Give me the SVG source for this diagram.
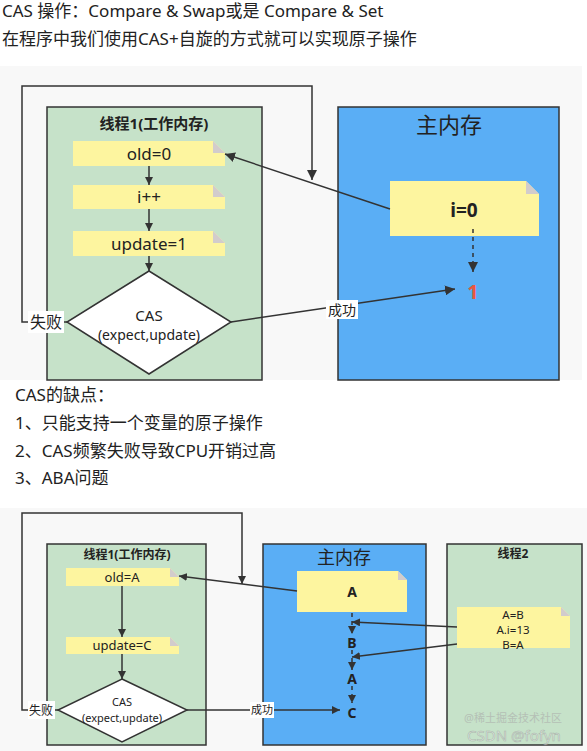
<svg xmlns="http://www.w3.org/2000/svg" width="587" height="751" viewBox="0 0 587 751">
<defs>
<marker id="ah" viewBox="0 0 10 10" refX="10" refY="5" markerWidth="10" markerHeight="10" markerUnits="userSpaceOnUse" orient="auto">
<path d="M0,0 L10,5 L0,10 Z" fill="#333"/>
</marker>
<marker id="ahs" viewBox="0 0 10 10" refX="10" refY="5" markerWidth="8" markerHeight="8" markerUnits="userSpaceOnUse" orient="auto">
<path d="M0,0 L10,5 L0,10 Z" fill="#333"/>
</marker>
</defs>
<style>
text{font-family:"Noto Sans","Noto Sans CJK SC",sans-serif;fill:#222}
.hd{font-size:17px}
.green{fill:#c6e2c9;stroke:#333;stroke-width:1.5}
.blue{fill:#5aaef5;stroke:#333;stroke-width:1.5}
.note{fill:#fdf59f}
.fold{fill:#d2cccc}
.dia{fill:#fff;stroke:#333;stroke-width:1.5}
.ln{fill:none;stroke:#333;stroke-width:1.5}
.dash{fill:none;stroke:#333;stroke-width:1.5;stroke-dasharray:4 4}
.lbl{fill:#fff}
.c{text-anchor:middle}
</style>
<rect x="0" y="0" width="587" height="751" fill="#fff"/>
<rect x="0" y="66" width="582" height="314" fill="#f8f8f8"/>
<rect x="0" y="508" width="587" height="243" fill="#f8f8f8"/>

<text class="hd" x="2" y="17">CAS 操作：Compare &amp; Swap或是 Compare &amp; Set</text>
<text class="hd" x="2" y="45">在程序中我们使用CAS+自旋的方式就可以实现原子操作</text>

<!-- Top diagram -->
<g id="thread1-top">
<rect class="green" x="47" y="107" width="215" height="273"/>
<text x="154" y="129" class="c" font-size="15" font-weight="bold" fill="#333">线程1(工作内存)</text>
</g>
<g id="old0">
<path class="note" d="M73,141 H213 L225,153 V166 H73 Z"/>
<path class="fold" d="M213,141 L225,153 H213 Z"/>
<text x="149" y="160" class="c" font-size="17">old=0</text>
</g>
<g id="ipp">
<path class="note" d="M73,185 H213 L225,197 V209 H73 Z"/>
<path class="fold" d="M213,185 L225,197 H213 Z"/>
<text x="149" y="203" class="c" font-size="17">i++</text>
</g>
<g id="update1">
<path class="note" d="M73,231 H213 L225,243 V256 H73 Z"/>
<path class="fold" d="M213,231 L225,243 H213 Z"/>
<text x="149" y="250" class="c" font-size="17">update=1</text>
</g>
<g id="cas-top">
<path class="dia" d="M149,271 L231,322 L149,374 L67,322 Z"/>
<text x="149" y="321" class="c" font-size="15" fill="#333">CAS</text>
<text x="149" y="340" class="c" font-size="14" fill="#333">(expect,update)</text>
</g>
<g id="mainmem-top">
<rect class="blue" x="338" y="107" width="221" height="273"/>
<text x="449" y="133" class="c" font-size="22" fill="#333">主内存</text>
</g>
<g id="i0">
<path class="note" d="M390,181 H526 L539,194 V236 H390 Z"/>
<path class="fold" d="M526,181 L539,194 H526 Z"/>
<text x="464" y="217" class="c" font-size="19" font-weight="bold">i=0</text>
</g>
<g id="one">
<text x="473" y="299" class="c" font-size="20" font-weight="bold" style="fill:#e9573f">1</text>
</g>

<g id="connectors-top">
<line class="ln" x1="149" y1="166" x2="149" y2="185" marker-end="url(#ahs)"/>
<line class="ln" x1="149" y1="209" x2="149" y2="231" marker-end="url(#ahs)"/>
<line class="ln" x1="149" y1="256" x2="149" y2="271" marker-end="url(#ahs)"/>
<line class="ln" x1="390" y1="209" x2="225" y2="154" marker-end="url(#ah)"/>
<line class="dash" x1="473" y1="229" x2="473" y2="272" marker-end="url(#ah)"/>
<polyline class="ln" points="67,322 22,322 22,86 312,86 312,180" marker-end="url(#ah)"/>
<line class="ln" x1="231" y1="322" x2="455" y2="289" marker-end="url(#ah)"/>
<rect class="lbl" x="28" y="311" width="36" height="22"/>
<text x="46" y="328" class="c" font-size="16" fill="#333">失败</text>
<rect class="lbl" x="326" y="300" width="32" height="19"/>
<text x="342" y="315" class="c" font-size="14" fill="#333">成功</text>
</g>

<text class="hd" x="15" y="401">CAS的缺点：</text>
<text class="hd" x="15" y="429">1、只能支持一个变量的原子操作</text>
<text class="hd" x="15" y="457">2、CAS频繁失败导致CPU开销过高</text>
<text class="hd" x="15" y="484">3、ABA问题</text>

<!-- Bottom diagram -->
<g id="thread1-bottom">
<rect class="green" x="47" y="544" width="159" height="201"/>
<text x="127" y="559" class="c" font-size="12" font-weight="bold" fill="#333">线程1(工作内存)</text>
</g>
<g id="oldA">
<path class="note" d="M66,568 H170 L179,577 V586 H66 Z"/>
<path class="fold" d="M170,568 L179,577 H170 Z"/>
<text x="122" y="582" class="c" font-size="13">old=A</text>
</g>
<g id="updateC">
<path class="note" d="M66,637 H170 L179,646 V654 H66 Z"/>
<path class="fold" d="M170,637 L179,646 H170 Z"/>
<text x="122" y="650" class="c" font-size="13">update=C</text>
</g>
<g id="cas-bottom">
<path class="dia" d="M122,679 L187,710 L122,742 L58,710 Z"/>
<text x="122" y="706" class="c" font-size="11" fill="#333">CAS</text>
<text x="122" y="722" class="c" font-size="11" fill="#333">(expect,update)</text>
</g>
<g id="mainmem-bottom">
<rect class="blue" x="263" y="544" width="163" height="201"/>
<text x="344" y="564" class="c" font-size="18" fill="#333">主内存</text>
</g>
<g id="noteA">
<path class="note" d="M297,571 H398 L407,580 V612 H297 Z"/>
<path class="fold" d="M398,571 L407,580 H398 Z"/>
<text x="352" y="597" class="c" font-size="14" font-weight="bold">A</text>
</g>
<g id="valB"><text x="352" y="648" class="c" font-size="14" font-weight="bold">B</text></g>
<g id="valA"><text x="352" y="684" class="c" font-size="14" font-weight="bold">A</text></g>
<g id="valC"><text x="352" y="718" class="c" font-size="14" font-weight="bold">C</text></g>
<g id="thread2">
<rect class="green" x="447" y="544" width="135" height="201"/>
<text x="513" y="558" class="c" font-size="12" font-weight="bold" fill="#333">线程2</text>
</g>
<g id="note-t2">
<path class="note" d="M457,607 H561 L570,616 V648 H457 Z"/>
<path class="fold" d="M561,607 L570,616 H561 Z"/>
<text x="513" y="619" class="c" font-size="11.5">A=B</text>
<text x="513" y="634" class="c" font-size="11.5">A.i=13</text>
<text x="513" y="649" class="c" font-size="11.5">B=A</text>
</g>

<g id="connectors-bottom">
<line class="ln" x1="122" y1="586" x2="122" y2="637" marker-end="url(#ahs)"/>
<line class="ln" x1="122" y1="654" x2="122" y2="679" marker-end="url(#ahs)"/>
<line class="ln" x1="297" y1="591" x2="179" y2="576" marker-end="url(#ahs)"/>
<polyline class="ln" points="58,710 22,710 22,513 242,513 242,584" marker-end="url(#ahs)"/>
<line class="dash" x1="352" y1="613" x2="352" y2="634" marker-end="url(#ahs)"/>
<line class="dash" x1="352" y1="650" x2="352" y2="670" marker-end="url(#ahs)"/>
<line class="dash" x1="352" y1="686" x2="352" y2="703" marker-end="url(#ahs)"/>
<line class="ln" x1="457" y1="627" x2="352" y2="622" marker-end="url(#ahs)"/>
<line class="ln" x1="457" y1="644" x2="352" y2="657" marker-end="url(#ahs)"/>
<line class="ln" x1="187" y1="710" x2="340" y2="710" marker-end="url(#ahs)"/>
<rect class="lbl" x="28" y="701" width="27" height="18"/>
<text x="41" y="715" class="c" font-size="12" fill="#333">失败</text>
<rect class="lbl" x="250" y="702" width="24" height="16"/>
<text x="262" y="714" class="c" font-size="11" fill="#333">成功</text>
</g>

<g id="watermark" opacity="0.6">
<text x="513" y="722" class="c" font-size="11" style="fill:#aaa">@稀土掘金技术社区</text>
<text x="514" y="741" class="c" font-size="15" style="fill:#f4f4f4;stroke:#999;stroke-width:0.6">CSDN @fofyn</text>
</g>
</svg>
